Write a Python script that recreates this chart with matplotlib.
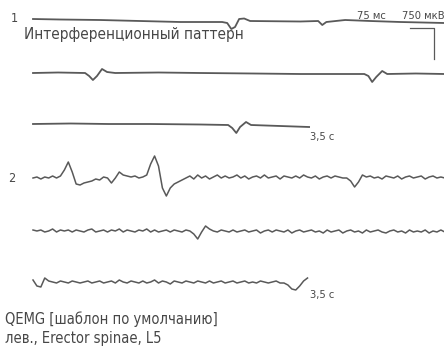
import numpy as np
import matplotlib
matplotlib.use("Agg")
import matplotlib.pyplot as plt

# ---------------- data (time in ms within a row, amplitude in microvolts) -------------
# channel 1 (smooth trace, knots)
ch1_r1_t = [0, 86, 214, 341, 469, 603, 619, 632, 644, 657, 673, 692, 852, 909, 922, 935, 995, 1075, 1171, 1311]
ch1_r1_uv = [48, 36, 24, 0, -24, -24, -48, -192, -144, 48, 60, 0, -12, 0, -96, -24, 24, 0, -24, -48]

ch1_r2_t = [0, 80, 166, 179, 191, 204, 220, 236, 262, 400, 533, 700, 852, 1056, 1069, 1081, 1094, 1113, 1129, 1220, 1311]
ch1_r2_uv = [0, 12, 0, -72, -168, -72, 96, 24, 0, 12, 0, -12, -24, -24, -72, -216, -96, 48, -24, -12, -24]

ch1_r3_t = [0, 120, 240, 373, 533, 622, 635, 648, 660, 679, 695, 788, 880]
ch1_r3_uv = [0, 12, 0, 0, -12, -24, -96, -216, -72, 48, -24, -48, -72]

# channel 2 (noisy trace, sampled every 12.5 ms)
SAMPLE_MS = 12.5
ch2_r1_uv = [-24, 0, -48, 0, -24, 24, -24, 24, 168, 360, 120, -168, -192, -144, -120, -96,
             -48, -72, 0, -24, -144, -24, 120, 48, 24, 0, 24, -24, 0, 48, 312, 504,
             264, -264, -456, -264, -168, -120, -72, -24, 24, -48, 48, -24, 24, -48, 0, 48,
             -24, 24, -24, 0, 48, -24, 24, -48, 0, 24, -24, 48, -24, 0, 24, -48, 24, 0,
             -24, 24, -24, 48, 0, -24, 24, -48, 0, 24, -24, 24, 0, -24, -24, -96, -240, -120,
             48, 0, 24, -24, 0, -48, 24, 0, -24, 24, -48, 0, 24, -24, 0, 24, -48, 0,
             24, -24, 0, -24]
ch2_r2_uv = [24, 0, 24, -24, 0, 48, -24, 24, 0, 24, -24, 24, 0, -24, 24, 48, -24, 0, 24, -24,
             24, 0, 48, -24, 24, 0, -24, 24, 0, 48, -24, 24, -24, 0, 24, -24, 24, 0, -24, 24,
             0, -72, -192, -24, 120, 48, 0, -24, 24, 0, -24, 24, -24, 0, 24, -24, 0, 24, -48, 0,
             24, -24, 24, 0, -24, 24, -48, 0, 24, -24, 0, 24, -24, 0, -48, 24, -24, 0, 24, -48,
             0, 24, -24, 0, -48, 24, -24, 0, 24, -24, -48, 0, 24, -24, 0, -48, 24, -24, 0, -24,
             24, -48, 0, -24, 24, -24]
ch2_r3_uv = [48, -96, -120, 96, 24, 0, -24, 24, 0, -24, 24, 0, -24, 0, 24, -24, 0, 24, -24, 0,
             24, -24, 48, 0, -24, 24, 0, -24, 24, -24, 0, 48, -24, 24, 0, -48, 24, 0, -24, 24,
             0, -24, 24, 0, -24, 24, -24, 0, 24, -24, 0, 24, -24, 0, 24, -24, 0, -24, 24, 0,
             -24, 0, 24, -24, -24, -72, -168, -192, -96, 24, 96]

title_text = "Интерференционный паттерн"
footer_lines = ["QEMG [шаблон по умолчанию]", "лев., Erector spinae, L5"]
time_label = "3,5 с"
scale_t_label = "75 мс"
scale_v_label = "750 мкВ"
SCALE_MS = 75
SCALE_UV = 750

# ---------------- layout ----------------
W, H = 444, 352
X0 = 33.0
PX_PER_MS = 411.0 / 1310.0
UV_PER_PX = 24.0
row_base = {"c1": [21, 73, 124], "c2": [177, 231, 282]}
COLOR = "#595959"
TXT = "#474747"

fig = plt.figure(figsize=(W / 100, H / 100), dpi=100)
ax = fig.add_axes([0, 0, 1, 1])
ax.set_xlim(0, W)
ax.set_ylim(H, 0)
ax.axis("off")

def draw(t_ms, uv, base, lw):
    t = np.asarray(t_ms, float)
    v = np.asarray(uv, float)
    ax.plot(X0 + t * PX_PER_MS, base - v / UV_PER_PX, color=COLOR, lw=lw,
            solid_joinstyle="round", clip_on=True)

for t, v, b in zip([ch1_r1_t, ch1_r2_t, ch1_r3_t], [ch1_r1_uv, ch1_r2_uv, ch1_r3_uv], row_base["c1"]):
    draw(t, v, b, 1.3)
for v, b in zip([ch2_r1_uv, ch2_r2_uv, ch2_r3_uv], row_base["c2"]):
    draw(np.arange(len(v)) * SAMPLE_MS, v, b, 1.1)

# scale bar
sx1 = 434
sy0 = 28
ax.plot([sx1 - SCALE_MS * PX_PER_MS, sx1, sx1], [sy0, sy0, sy0 + SCALE_UV / UV_PER_PX],
        color=COLOR, lw=0.9)

font = ["DejaVu Sans"]
kw = dict(color=TXT, family=font, stretch="condensed")
ax.text(14, 19, "1", fontsize=9, ha="center", va="center", **kw)
ax.text(12, 179, "2", fontsize=9, ha="center", va="center", **kw)
ax.text(24, 34, title_text, fontsize=11, ha="left", va="center", **kw)
ax.text(357, 16, scale_t_label, fontsize=8, ha="left", va="center", **kw)
ax.text(402, 16, scale_v_label, fontsize=8, ha="left", va="center", **kw)
ax.text(310, 137, time_label, fontsize=8, ha="left", va="center", **kw)
ax.text(310, 295, time_label, fontsize=8, ha="left", va="center", **kw)
ax.text(5, 319, footer_lines[0], fontsize=10.5, ha="left", va="center", **kw)
ax.text(5, 338, footer_lines[1], fontsize=10.5, ha="left", va="center", **kw)

fig.savefig("out.png", dpi=100, facecolor="white")
